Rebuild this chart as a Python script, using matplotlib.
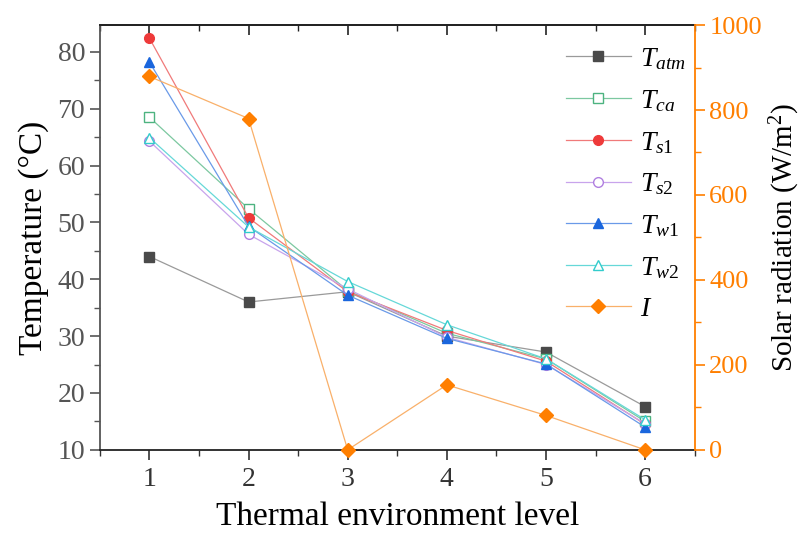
import matplotlib.pyplot as plt
from matplotlib.ticker import MultipleLocator

plt.rcParams['font.family'] = ['Liberation Serif', 'DejaVu Serif']
plt.rcParams['mathtext.fontset'] = 'custom'
plt.rcParams['mathtext.rm'] = 'Liberation Serif'
plt.rcParams['mathtext.it'] = 'Liberation Serif:italic'

level = [1, 2, 3, 4, 5, 6]
t_atm = [44.0, 36.0, 37.8, 30.0, 27.2, 17.6]
t_ca = [68.5, 52.4, 38.0, 30.5, 26.0, 15.0]
t_s1 = [82.4, 50.8, 37.8, 31.0, 25.6, 14.5]
t_s2 = [64.3, 47.9, 38.3, 29.8, 25.0, 14.6]
t_w1 = [78.2, 49.3, 37.2, 29.6, 25.1, 14.0]
t_w2 = [64.9, 49.2, 39.6, 32.0, 26.0, 15.3]
solar = [879, 780, 0, 153, 81, 0]

fig = plt.figure(figsize=(8.05, 5.33), dpi=100)
ax = fig.add_axes([0.124, 0.156, 0.739, 0.797])
ax2 = ax.twinx()

series = [
    (t_atm, r'$T_{atm}$', 's', '#4a4a4a', '#4a4a4a', '#9a9a9a'),
    (t_ca, r'$T_{ca}$', 's', 'white', '#4db380', '#7cc8a0'),
    (t_s1, r'$T_{s1}$', 'o', '#ee3a3a', '#ee3a3a', '#f07a7a'),
    (t_s2, r'$T_{s2}$', 'o', 'white', '#b07fe0', '#c8a4ec'),
    (t_w1, r'$T_{w1}$', '^', '#1a66dd', '#1a66dd', '#6a9ae8'),
    (t_w2, r'$T_{w2}$', '^', 'white', '#33cccc', '#66d8d8'),
]
handles = []
for vals, lab, mk, fc, ec, lc in series:
    h, = ax.plot(level, vals, color=lc, lw=0.9, marker=mk, ms=7,
                 mfc=fc, mec=ec, mew=1.0, label=lab)
    handles.append(h)

hi, = ax2.plot(level, solar, color='#f9b06a', lw=0.9, marker='D', ms=7,
               mfc='#ff7f00', mec='#ff7f00', label=r'$I$', clip_on=False)
handles.append(hi)

ax.set_xlim(0.5, 6.5)
ax.set_ylim(10, 84.7)
ax2.set_ylim(0, 1000)

ax.xaxis.set_major_locator(MultipleLocator(1))
ax.xaxis.set_minor_locator(MultipleLocator(0.5))
ax.yaxis.set_major_locator(MultipleLocator(10))
ax.yaxis.set_minor_locator(MultipleLocator(5))
ax2.yaxis.set_major_locator(MultipleLocator(200))
ax2.yaxis.set_minor_locator(MultipleLocator(100))

ax.tick_params(axis='x', which='both', direction='out', labelsize=20,
               colors='#333333', pad=5)
ax.tick_params(axis='x', which='major', length=7, width=1.2)
ax.tick_params(axis='x', which='minor', length=4, width=1.0)
ax.tick_params(axis='y', which='major', length=7, width=1.2, labelsize=20,
               colors='#555555')
ax.tick_params(axis='y', which='minor', length=4, width=1.0, colors='#555555')
ax2.tick_params(axis='y', which='major', length=7, width=1.2, labelsize=19,
                colors='#ff7f00')
ax2.tick_params(axis='y', which='minor', length=4, width=1.0, colors='#ff7f00')

# top axis: ticks pointing into the plot, no labels
top = ax.secondary_xaxis('top')
top.xaxis.set_major_locator(MultipleLocator(1))
top.xaxis.set_minor_locator(MultipleLocator(0.5))
top.tick_params(which='both', direction='in', labeltop=False, colors='#222222')
top.tick_params(which='major', length=7, width=1.2)
top.tick_params(which='minor', length=4, width=1.0)
top.spines['top'].set_linewidth(1.3)
top.spines['top'].set_color('#222222')

for s in ['left', 'bottom', 'top']:
    ax.spines[s].set_linewidth(1.3)
    ax2.spines[s].set_visible(False)
ax.spines['left'].set_color('#555555')
ax.spines['top'].set_color('#222222')
ax.spines['bottom'].set_color('#222222')
ax.spines['right'].set_visible(False)
ax2.spines['right'].set_color('#ff7f00')
ax2.spines['right'].set_linewidth(1.3)

ax.set_xlabel('Thermal environment level', fontsize=24, labelpad=7)
ax.set_ylabel('Temperature (°C)', fontsize=24, labelpad=6)
ax2.set_ylabel('Solar radiation (W/m$^2$)', fontsize=21, labelpad=4)

ax2.legend(handles=handles, loc='upper left', bbox_to_anchor=(0.783, 0.95),
           frameon=False, fontsize=20, handlelength=2.35, labelspacing=0.57,
           handletextpad=0.32, borderaxespad=0, borderpad=0)

fig.savefig('out.png', dpi=100)
